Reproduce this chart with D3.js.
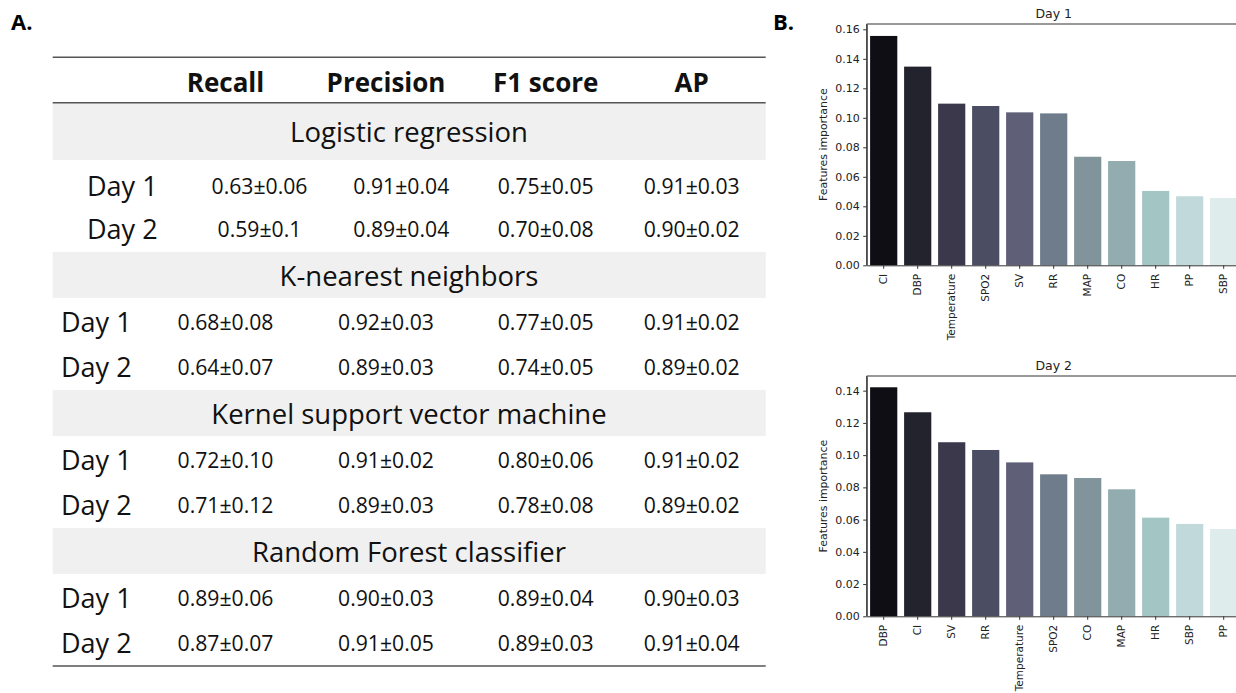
<!DOCTYPE html>
<meta charset="utf-8">
<script src="https://d3js.org/d3.v7.min.js"></script>
<style>
  body { margin: 0; background: #fff; }
</style>
<svg id="fig" width="1236" height="693"></svg>
<script>

  // ---- table data (panel A)
  var metricNames = ["Recall", "Precision", "F1 score", "AP"];
  var modelNames = ["Logistic regression", "K-nearest neighbors", "Kernel support vector machine", "Random Forest classifier"];
  var dayNames = ["Day 1", "Day 2"];
  // two rows (day 1, day 2) per model, in model order
  var recallVals = ["0.63±0.06", "0.59±0.1", "0.68±0.08", "0.64±0.07", "0.72±0.10", "0.71±0.12", "0.89±0.06", "0.87±0.07"];
  var precisionVals = ["0.91±0.04", "0.89±0.04", "0.92±0.03", "0.89±0.03", "0.91±0.02", "0.89±0.03", "0.90±0.03", "0.91±0.05"];
  var f1Vals = ["0.75±0.05", "0.70±0.08", "0.77±0.05", "0.74±0.05", "0.80±0.06", "0.78±0.08", "0.89±0.04", "0.89±0.03"];
  var apVals = ["0.91±0.03", "0.90±0.02", "0.91±0.02", "0.89±0.02", "0.91±0.02", "0.89±0.02", "0.90±0.03", "0.91±0.04"];

  // ---- feature importance data (panel B)
  var features1 = ["CI", "DBP", "Temperature", "SPO2", "SV", "RR", "MAP", "CO", "HR", "PP", "SBP"];
  var importance1 = [0.1555, 0.1347, 0.1096, 0.1080, 0.1037, 0.1030, 0.0736, 0.0707, 0.0504, 0.0468, 0.0456];
  var features2 = ["DBP", "CI", "SV", "RR", "Temperature", "SPO2", "CO", "MAP", "HR", "SBP", "PP"];
  var importance2 = [0.1421, 0.1266, 0.1080, 0.1032, 0.0955, 0.0881, 0.0858, 0.0788, 0.0612, 0.0573, 0.0542];
  var yTicks1 = [0, 0.02, 0.04, 0.06, 0.08, 0.10, 0.12, 0.14, 0.16];
  var yTicks2 = [0, 0.02, 0.04, 0.06, 0.08, 0.10, 0.12, 0.14];

  // bone-like palette, dark to light
  var barColors = ["#0e0e14", "#23232e", "#3b384b", "#4b4d63", "#5f5f78", "#6e7c8b",
    "#82949b", "#92acb0", "#a3c5c4", "#c1d9da", "#deecec"];

  var svg = d3.select("#fig");
  var tableFont = "'Open Sans', 'Noto Sans', sans-serif";
  var plotFont = "'DejaVu Sans', sans-serif";

  // panel letters
  svg.append("text").attr("x", 11).attr("y", 29.5)
    .style("font-family", tableFont).style("font-weight", "bold").style("font-size", "22px")
    .text("A.");
  svg.append("text").attr("x", 773).attr("y", 30)
    .style("font-family", tableFont).style("font-weight", "bold").style("font-size", "22px")
    .text("B.");

  // ================= table =================
  var tLeft = 52.7, tRight = 765.7;
  var colX = [225.5, 386, 545.7, 691.7];         // column centres
  var colXFirst = [259.5, 401.3, 545.7, 691.7];  // first block is laid out a bit differently
  var dayX = 61, dayXFirst = 87;
  var headerLine = 102.7;
  var bandH = [57.2, 46, 46, 46];

  var table = svg.append("g");

  table.append("line").attr("x1", tLeft).attr("x2", tRight).attr("y1", 57.3).attr("y2", 57.3)
    .style("stroke", "#555").style("stroke-width", 1.5);

  table.selectAll(".hdr")
    .data(metricNames)
    .enter().append("text")
    .attr("class", "hdr")
    .attr("x", function (d, i) { return colX[i]; })
    .attr("y", 91.7)
    .attr("text-anchor", "middle")
    .style("font-family", tableFont).style("font-weight", "bold").style("font-size", "26px")
    .style("fill", "#111")
    .text(function (d) { return d; });

  // work out block positions
  var blocks = [];
  var yy = headerLine;
  modelNames.forEach(function (m, i) {
    var top = yy, bot = yy + bandH[i];
    blocks.push({ name: m, idx: i, top: top, bot: bot, rows: [bot + (i == 0 ? 36 : 34), bot + 79] });
    yy = bot + 92;
  });
  var tableBottom = yy;

  var blk = table.selectAll(".blk")
    .data(blocks)
    .enter().append("g")
    .attr("class", "blk");

  blk.append("rect")
    .attr("x", tLeft).attr("width", tRight - tLeft)
    .attr("y", function (d) { return d.top; })
    .attr("height", function (d) { return d.bot - d.top; })
    .style("fill", "#f0f0f0");

  blk.append("text")
    .attr("x", 409)
    .attr("y", function (d) { return (d.top + d.bot) / 2 + 11; })
    .attr("text-anchor", "middle")
    .style("font-family", tableFont).style("font-size", "27.5px").style("fill", "#111")
    .text(function (d) { return d.name; });

  var allVals = [recallVals, precisionVals, f1Vals, apVals];
  blocks.forEach(function (b) {
    dayNames.forEach(function (day, r) {
      var yBase = b.rows[r];
      var k = b.idx * 2 + r;
      table.append("text")
        .attr("x", b.idx == 0 ? dayXFirst : dayX)
        .attr("y", yBase)
        .style("font-family", tableFont).style("font-size", "27px").style("fill", "#111")
        .text(day);
      table.selectAll(null)
        .data(allVals.map(function (arr) { return arr[k]; }))
        .enter().append("text")
        .attr("x", function (d, i) { return (b.idx == 0 ? colXFirst : colX)[i]; })
        .attr("y", yBase - 1.5)
        .attr("text-anchor", "middle")
        .style("font-family", tableFont).style("font-size", "21.2px").style("fill", "#111")
        .text(function (d) { return d; });
    });
  });

  table.append("line").attr("x1", tLeft).attr("x2", tRight).attr("y1", headerLine).attr("y2", headerLine)
    .style("stroke", "#555").style("stroke-width", 1.5);
  table.append("line").attr("x1", tLeft).attr("x2", tRight).attr("y1", tableBottom).attr("y2", tableBottom)
    .style("stroke", "#555").style("stroke-width", 1.5);

  // ================= bar charts =================
  function barChart(cfg) {
    var left = 866.7, width = 374;
    var x = d3.scaleBand()
      .domain(cfg.features)
      .range([left, left + width])
      .paddingInner(0.2)
      .paddingOuter(0.1);
    var y = d3.scaleLinear()
      .domain([0, cfg.ymax])
      .range([cfg.bottom, cfg.top]);

    var g = svg.append("g");

    g.selectAll("rect")
      .data(cfg.values)
      .enter().append("rect")
      .attr("x", function (d, i) { return x(cfg.features[i]); })
      .attr("width", x.bandwidth())
      .attr("y", function (d) { return y(d); })
      .attr("height", function (d) { return y(0) - y(d); })
      .style("fill", function (d, i) { return barColors[i]; });

    // y axis
    var ya = g.append("g")
      .attr("transform", "translate(" + left + ",0)")
      .call(d3.axisLeft(y).tickValues(cfg.ticks).tickFormat(d3.format(".2f"))
        .tickSize(3.5).tickPadding(3.5).tickSizeOuter(0));
    // x axis
    var xa = g.append("g")
      .attr("transform", "translate(0," + cfg.bottom + ")")
      .call(d3.axisBottom(x).tickSize(3.5).tickSizeOuter(0));

    [ya, xa].forEach(function (a) {
      a.select(".domain").style("stroke", "#333").style("stroke-width", 1);
      a.selectAll(".tick line").style("stroke", "#333");
      a.selectAll("text").style("font-family", plotFont).style("font-size", "11px").style("fill", "#222");
    });
    xa.selectAll("text")
      .attr("transform", "rotate(-90)")
      .attr("x", -8.5)
      .attr("y", 0)
      .attr("dy", "0.35em")
      .style("text-anchor", "end")
      .style("font-size", "10.5px");

    // top spine
    g.append("line")
      .attr("x1", left).attr("x2", left + width)
      .attr("y1", cfg.top).attr("y2", cfg.top)
      .style("stroke", "#333").style("stroke-width", 1);
    // extend left spine to top
    g.append("line")
      .attr("x1", left).attr("x2", left)
      .attr("y1", cfg.top).attr("y2", cfg.bottom)
      .style("stroke", "#333").style("stroke-width", 1);

    g.append("text")
      .attr("x", left + width / 2)
      .attr("y", cfg.top - 6)
      .attr("text-anchor", "middle")
      .style("font-family", plotFont).style("font-size", "12.5px").style("fill", "#222")
      .text(cfg.title);

    g.append("text")
      .attr("transform", "translate(827," + ((cfg.top + cfg.bottom) / 2) + ") rotate(-90)")
      .attr("text-anchor", "middle")
      .style("font-family", plotFont).style("font-size", "10.9px").style("fill", "#222")
      .text("Features importance");
  }

  barChart({ title: "Day 1", features: features1, values: importance1, ticks: yTicks1, ymax: 0.1636, top: 24, bottom: 265.3 });
  barChart({ title: "Day 2", features: features2, values: importance2, ticks: yTicks2, ymax: 0.1491, top: 376, bottom: 616.3 });

</script>
